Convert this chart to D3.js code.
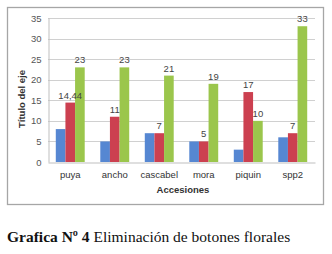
<!DOCTYPE html>
<html lang="es">
  <head>
    <meta charset="UTF-8" />
    <title>Grafica 4</title>
    <script src="https://cdn.jsdelivr.net/npm/d3@7"></script>
    <style>
      body { margin:0; background:#fff; }
      svg { display:block; }
    </style>
  </head>
  <body>
    <svg width="332" height="254"></svg>
    <script>
      // data
      const categories = ["puya", "ancho", "cascabel", "mora", "piquin", "spp2"];
      const serie1 = [8, 5, 7, 5, 3, 6];          // blue, no labels
      const serie2 = [14.44, 11, 7, 5, 17, 7];     // red
      const serie3 = [23, 23, 21, 19, 10, 33];     // green
      const yTicks = [0, 5, 10, 15, 20, 25, 30, 35];
      const colors = ["#5687d2", "#cc4050", "#9bc64c"];

      const svg = d3.select("svg");
      const plot = {left:48, right:315, top:18, bottom:162};
      const sans = "'Liberation Sans', Arial, sans-serif";
      const serif = "'Liberation Serif', 'Times New Roman', serif";

      // chart frame
      svg.append("rect").attr("x",7.5).attr("y",7.5).attr("width",316).attr("height",197)
        .attr("fill","#fff").attr("stroke","#a6a6a6").attr("stroke-width",1.3);

      const x = d3.scaleBand().domain(categories).range([plot.left, plot.right]).paddingInner(0.35).paddingOuter(0.175);
      const xs = d3.scaleBand().domain([0,1,2]).range([0, x.bandwidth()]);
      const y = d3.scaleLinear().domain([0,35]).range([plot.bottom, plot.top]);

      // grid lines
      svg.append("g").selectAll("line").data(yTicks.slice(1)).join("line")
        .attr("x1",plot.left).attr("x2",plot.right)
        .attr("y1",d=>Math.round(y(d))+0.5).attr("y2",d=>Math.round(y(d))+0.5)
        .attr("stroke","#d0d0d0");

      // y axis
      const yAxis = svg.append("g").attr("transform",`translate(${plot.left+0.5},0)`)
        .call(d3.axisLeft(y).tickValues(yTicks).tickSize(0).tickPadding(7));
      yAxis.select(".domain").attr("stroke","#bfbfbf");
      yAxis.selectAll("text").attr("font-family",sans)
        .attr("font-size",9.5).attr("fill","#555");

      const series = [serie1, serie2, serie3];
      series.forEach((vals, s) => {
        svg.append("g").selectAll("rect").data(vals).join("rect")
          .attr("x",(d,i)=>x(categories[i])+xs(s))
          .attr("width",xs.bandwidth())
          .attr("y",d=>y(d))
          .attr("height",d=>y(0)-y(d))
          .attr("fill",colors[s]);
      });
      // value labels for red and green only, drawn after all bars
      series.forEach((vals, s) => {
        if (s === 0) return;
        svg.append("g").selectAll("text").data(vals).join("text")
          .attr("x",(d,i)=>x(categories[i])+xs(s)+xs.bandwidth()/2)
          .attr("y",d=>y(d)-4)
          .attr("text-anchor","middle")
          .attr("font-family",sans)
          .attr("font-size",9.5).attr("fill","#444")
          .text(d=>String(d).replace(".",","));
      });

      // x axis
      const xAxis = svg.append("g").attr("transform",`translate(0,${plot.bottom+0.5})`)
        .call(d3.axisBottom(x).tickSize(0).tickPadding(9));
      xAxis.select(".domain").attr("stroke","#bfbfbf");
      xAxis.selectAll("text").attr("font-family",sans)
        .attr("font-size",9.5).attr("fill","#333");

      // axis titles
      svg.append("text").attr("x",183).attr("y",193).attr("text-anchor","middle")
        .attr("font-family",sans).attr("font-size",9.5)
        .attr("font-weight","bold").attr("fill","#333").text("Accesiones");
      svg.append("text").attr("transform","translate(25,99) rotate(-90)").attr("text-anchor","middle")
        .attr("font-family",sans).attr("font-size",9.5)
        .attr("font-weight","bold").attr("fill","#333").text("Título del eje");

      // caption
      const cap = svg.append("text").attr("x",7).attr("y",242)
        .attr("font-family",serif).attr("font-size",15.5).attr("fill","#111");
      cap.append("tspan").attr("font-family",serif).attr("font-weight","bold").text("Grafica Nº 4");
      cap.append("tspan").attr("font-family",serif).text(" Eliminación de botones florales");
    </script>
  </body>
</html>
